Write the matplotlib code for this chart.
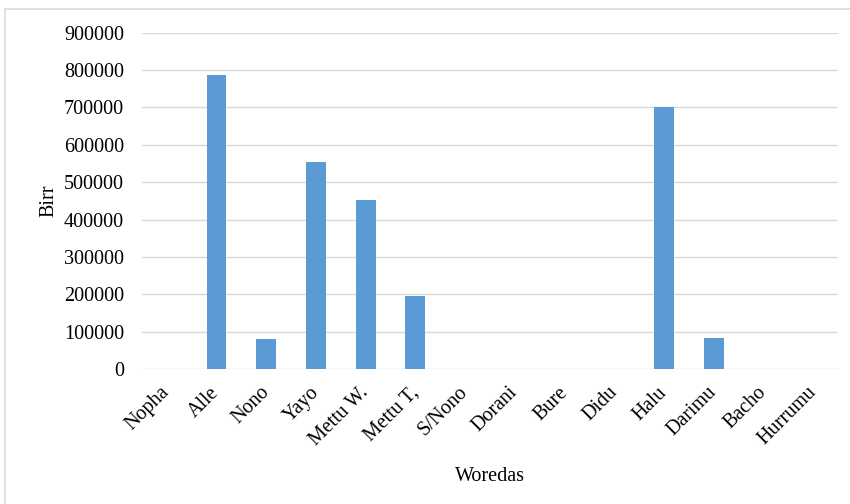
import matplotlib.pyplot as plt
from matplotlib.patches import Rectangle

woredas = ['Nopha', 'Alle', 'Nono', 'Yayo', 'Mettu W.', 'Mettu T,', 'S/Nono',
           'Dorani', 'Bure', 'Didu', 'Halu', 'Darimu', 'Bacho', 'Hurrumu']
birr = [0, 788000, 80000, 555000, 452000, 195000, 0,
        0, 0, 0, 700000, 83000, 0, 0]
yticks = [0, 100000, 200000, 300000, 400000, 500000, 600000, 700000, 800000, 900000]

plt.rcParams['font.family'] = ['Liberation Serif', 'DejaVu Serif']

fig = plt.figure(figsize=(8.5, 5.04), dpi=100)
ax = fig.add_axes([0.167, 0.268, 0.819, 0.667])

x = range(len(woredas))
ax.bar(x, birr, width=0.4, color='#5b9bd5', zorder=3)

ax.set_xlim(-0.5, len(woredas) - 0.5)
ax.set_ylim(0, 900000)
ax.set_yticks(yticks)
ax.set_yticklabels([str(v) for v in yticks], fontsize=14.5)
ax.set_xticks(list(x))
ax.set_xticklabels(woredas, rotation=45, ha='right', va='center',
                   rotation_mode='anchor', fontsize=14.5)
ax.tick_params(axis='y', length=0, pad=13)
ax.tick_params(axis='x', length=0, pad=15)

ax.grid(axis='y', color='#d9d9d9', linewidth=1, zorder=0)
for s in ax.spines.values():
    s.set_visible(False)

ax.set_ylabel('Birr', fontsize=14.5, labelpad=4)
ax.set_xlabel('Woredas', fontsize=14.5, labelpad=13)

# light frame round the whole chart
fig.patches.append(Rectangle((0.006, -0.01), 1.0, 0.993, transform=fig.transFigure,
                             fill=False, edgecolor='#d9d9d9', linewidth=1.2))

plt.savefig('out.png', dpi=100)
